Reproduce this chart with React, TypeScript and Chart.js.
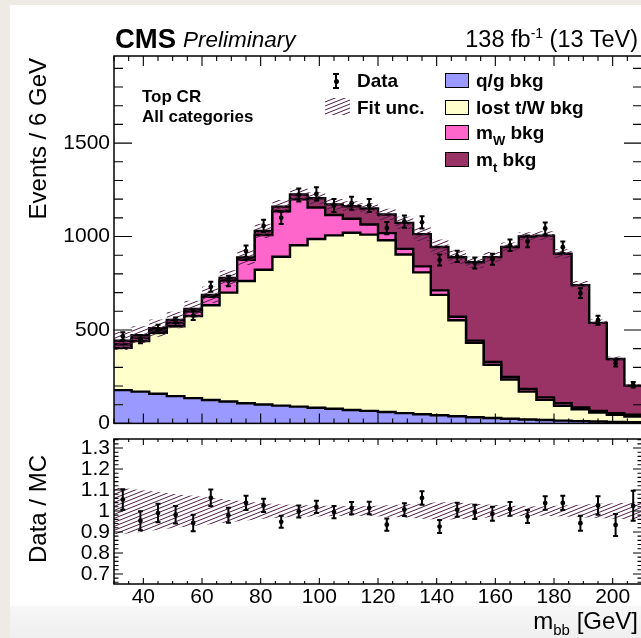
import React, { useEffect, useRef } from "react";
import { Chart, registerables } from "chart.js";

Chart.register(...registerables);

const FONT = "'Liberation Sans', Arial, Helvetica, sans-serif";

// m_bb binning: 30 bins of 6 GeV between 30 and 210 GeV
const binEdges = [30, 36, 42, 48, 54, 60, 66, 72, 78, 84, 90, 96, 102, 108, 114, 120, 126, 132, 138, 144, 150, 156, 162, 168, 174, 180, 186, 192, 198, 204, 210];

// Post-fit background yields per bin
const qgBkg = [178, 170, 159, 146, 135, 125, 117, 108, 101, 95, 90, 84, 78, 72, 67, 61, 55, 49, 44, 38, 33, 29, 25, 21, 18, 15, 12, 10, 8, 6];
const lostBkg = [227, 270, 326, 374, 440, 507, 583, 654, 721, 797, 863, 903, 928, 948, 943, 919, 849, 759, 644, 514, 398, 285, 210, 149, 108, 79, 64, 48, 38, 31];
const mwBkg = [17, 15, 12, 16, 23, 46, 65, 114, 186, 243, 246, 168, 109, 75, 54, 38, 30, 32, 24, 19, 12, 15, 14, 14, 13, 14, 10, 9, 9, 9];
const mtBkg = [20, 17, 13, 17, 14, 10, 13, 12, 22, 25, 26, 50, 57, 67, 86, 100, 139, 173, 232, 318, 419, 561, 695, 816, 866, 800, 654, 471, 290, 156];

// Observed events per bin
const dataCounts = [466, 450, 505, 543, 577, 731, 762, 922, 1057, 1100, 1222, 1228, 1166, 1178, 1166, 1045, 1080, 1076, 874, 894, 858, 878, 953, 974, 1043, 943, 697, 552, 322, 207];

// Relative fit uncertainty on the total prediction
const fitUnc = [0.11, 0.1, 0.09, 0.08, 0.072, 0.063, 0.054, 0.045, 0.037, 0.031, 0.028, 0.026, 0.024, 0.023, 0.024, 0.027, 0.031, 0.037, 0.042, 0.04, 0.035, 0.03, 0.026, 0.023, 0.023, 0.026, 0.03, 0.034, 0.037, 0.04];

const mainYTicks = [0, 500, 1000, 1500];
const ratioYTicks = [0.7, 0.8, 0.9, 1.0, 1.1, 1.2, 1.3];
const xTicks = [40, 60, 80, 100, 120, 140, 160, 180, 200];

const COLORS = {
  qg: "#9999ff",
  lost: "#ffffcc",
  mw: "#ff66cc",
  mt: "#993366",
  hatch: "rgb(78, 30, 72)",
};

const nBins = binEdges.length - 1;
const centers = binEdges.slice(0, nBins).map((e, i) => (e + binEdges[i + 1]) / 2);

function cumulate(...parts: number[][]) {
  return parts[0].map((_, i) => parts.reduce((s, p) => s + p[i], 0));
}
const cumQg = cumulate(qgBkg);
const cumLost = cumulate(qgBkg, lostBkg);
const cumMw = cumulate(qgBkg, lostBkg, mwBkg);
const totalMC = cumulate(qgBkg, lostBkg, mwBkg, mtBkg);

function stepPoints(vals: number[]) {
  const pts = vals.map((v, i) => ({ x: binEdges[i], y: v }));
  pts.push({ x: binEdges[nBins], y: vals[nBins - 1] });
  return pts;
}

function errorBarPoints(xs: number[], lo: number[], hi: number[], cap: number) {
  const pts: { x: number; y: number | null }[] = [];
  xs.forEach((x, i) => {
    pts.push({ x, y: lo[i] }, { x, y: hi[i] }, { x, y: null });
    pts.push({ x: x - cap, y: lo[i] }, { x: x + cap, y: lo[i] }, { x, y: null });
    pts.push({ x: x - cap, y: hi[i] }, { x: x + cap, y: hi[i] }, { x, y: null });
  });
  return pts;
}

function range(from: number, to: number, step: number) {
  const out: number[] = [];
  for (let v = from; v <= to + step * 1e-6; v += step) out.push(Math.round(v * 1000) / 1000);
  return out;
}

function makeHatchTile() {
  const c = document.createElement("canvas");
  c.width = 10;
  c.height = 4;
  const g = c.getContext("2d")!;
  g.strokeStyle = COLORS.hatch;
  g.lineWidth = 1;
  for (const k of [-1, 0, 1]) {
    g.beginPath();
    g.moveTo(-10, 8 + k * 4);
    g.lineTo(20, -4 + k * 4);
    g.stroke();
  }
  return c;
}

type TickSpec = { v: number; len: number }[];

function frameTicksPlugin(id: string, xs: TickSpec, ys: TickSpec) {
  return {
    id,
    afterDatasetsDraw(chart: any) {
      const { ctx, chartArea: a, scales } = chart;
      const sx = scales.x;
      const sy = scales.y;
      ctx.save();
      ctx.strokeStyle = "#000";
      ctx.lineWidth = 1.1;
      ctx.beginPath();
      xs.forEach(({ v, len }) => {
        const p = sx.getPixelForValue(v);
        ctx.moveTo(p, a.bottom);
        ctx.lineTo(p, a.bottom - len);
        ctx.moveTo(p, a.top);
        ctx.lineTo(p, a.top + len);
      });
      ys.forEach(({ v, len }) => {
        const p = sy.getPixelForValue(v);
        ctx.moveTo(a.left, p);
        ctx.lineTo(a.left + len, p);
        ctx.moveTo(a.right, p);
        ctx.lineTo(a.right - len, p);
      });
      ctx.stroke();
      ctx.lineWidth = 1.5;
      ctx.strokeRect(a.left, a.top, a.right - a.left, a.bottom - a.top);
      ctx.restore();
    },
  };
}

function tickSpec(major: number[], minor: number[], majorLen: number, minorLen: number): TickSpec {
  const isMajor = (v: number) => major.some((m) => Math.abs(m - v) < 1e-6);
  return [
    ...major.map((v) => ({ v, len: majorLen })),
    ...minor.filter((v) => !isMajor(v)).map((v) => ({ v, len: minorLen })),
  ];
}

const CANVAS_W = 700;
const MAIN_H = 440;
const RATIO_TOP = 420;
const RATIO_H = 218;
const PLOT_LEFT = 114;
const PLOT_RIGHT = 642;

function histDataset(label: string, vals: number[], color: string, order: number) {
  return {
    label,
    data: stepPoints(vals),
    stepped: true,
    borderColor: "#000",
    borderWidth: 2.4,
    borderJoinStyle: "miter",
    backgroundColor: color,
    fill: "origin",
    pointRadius: 0,
    order,
  };
}

function mainConfig(hatch: CanvasPattern) {
  const dataErr = errorBarPoints(
    centers,
    dataCounts.map((d) => d - Math.sqrt(d)),
    dataCounts.map((d) => d + Math.sqrt(d)),
    0.85
  );
  return {
    type: "line",
    data: {
      datasets: [
        {
          label: "Data",
          data: centers.map((x, i) => ({ x, y: dataCounts[i] })),
          showLine: false,
          pointRadius: 2.4,
          pointBackgroundColor: "#000",
          pointBorderWidth: 0,
          order: 0,
        },
        {
          label: "Data errors",
          data: dataErr,
          borderColor: "#000",
          borderWidth: 2,
          pointRadius: 0,
          spanGaps: false,
          fill: false,
          order: 0,
        },
        {
          label: "Fit unc. low",
          data: stepPoints(totalMC.map((t, i) => t * (1 - fitUnc[i]))),
          stepped: true,
          borderColor: "rgba(0,0,0,0)",
          borderWidth: 0,
          pointRadius: 0,
          fill: false,
          order: 1,
        },
        {
          label: "Fit unc.",
          data: stepPoints(totalMC.map((t, i) => t * (1 + fitUnc[i]))),
          stepped: true,
          borderColor: "rgba(0,0,0,0)",
          borderWidth: 0,
          pointRadius: 0,
          backgroundColor: hatch,
          fill: 2,
          order: 1,
        },
        histDataset("q/g bkg", cumQg, COLORS.qg, 2),
        histDataset("lost t/W bkg", cumLost, COLORS.lost, 3),
        histDataset("mW bkg", cumMw, COLORS.mw, 4),
        histDataset("mt bkg", totalMC, COLORS.mt, 5),
      ],
    },
    options: {
      responsive: false,
      animation: false,
      events: [],
      layout: { padding: { left: 0, top: 56, right: CANVAS_W - PLOT_RIGHT, bottom: MAIN_H - 427 } },
      plugins: { legend: { display: false }, tooltip: { enabled: false } },
      scales: {
        x: {
          type: "linear",
          min: 30,
          max: 210,
          ticks: { display: false },
          grid: { display: false, drawTicks: false },
          border: { display: false },
          afterFit: (s: any) => {
            s.height = 0;
          },
        },
        y: {
          type: "linear",
          min: 0,
          max: 1966,
          afterBuildTicks: (s: any) => {
            s.ticks = mainYTicks.map((value) => ({ value }));
          },
          ticks: {
            font: { family: FONT, size: 21 },
            color: "#000",
            padding: 4,
            autoSkip: false,
            callback: (v: number) => String(v),
          },
          grid: { display: false, drawTicks: false },
          border: { display: false },
          afterFit: (s: any) => {
            s.width = PLOT_LEFT;
          },
        },
      },
    },
    plugins: [
      frameTicksPlugin(
        "mainFrame",
        tickSpec(xTicks, range(30, 210, 5), 10, 5),
        tickSpec(mainYTicks, range(0, 1900, 100), 18, 9)
      ),
    ],
  };
}

function ratioConfig(hatch: CanvasPattern) {
  const ratio = dataCounts.map((d, i) => d / totalMC[i]);
  const ratioErr = dataCounts.map((d, i) => Math.sqrt(d) / totalMC[i]);
  const bandX = [binEdges[0], ...centers, binEdges[nBins]];
  const bandU = [fitUnc[0], ...fitUnc, fitUnc[nBins - 1]];
  return {
    type: "line",
    data: {
      datasets: [
        {
          label: "Data / MC",
          data: centers.map((x, i) => ({ x, y: ratio[i] })),
          showLine: false,
          pointRadius: 2.4,
          pointBackgroundColor: "#000",
          pointBorderWidth: 0,
          order: 0,
        },
        {
          label: "Data / MC errors",
          data: errorBarPoints(
            centers,
            ratio.map((r, i) => r - ratioErr[i]),
            ratio.map((r, i) => r + ratioErr[i]),
            0.85
          ),
          borderColor: "#000",
          borderWidth: 2,
          pointRadius: 0,
          spanGaps: false,
          fill: false,
          order: 0,
        },
        {
          label: "Fit unc. low",
          data: bandX.map((x, i) => ({ x, y: 1 - bandU[i] })),
          borderColor: "rgba(0,0,0,0)",
          borderWidth: 0,
          pointRadius: 0,
          fill: false,
          order: 1,
        },
        {
          label: "Fit unc.",
          data: bandX.map((x, i) => ({ x, y: 1 + bandU[i] })),
          borderColor: "rgba(0,0,0,0)",
          borderWidth: 0,
          pointRadius: 0,
          backgroundColor: hatch,
          fill: 2,
          order: 1,
        },
      ],
    },
    options: {
      responsive: false,
      animation: false,
      events: [],
      layout: { padding: { left: 0, top: 439 - RATIO_TOP, right: CANVAS_W - PLOT_RIGHT, bottom: 0 } },
      plugins: { legend: { display: false }, tooltip: { enabled: false } },
      scales: {
        x: {
          type: "linear",
          min: 30,
          max: 210,
          afterBuildTicks: (s: any) => {
            s.ticks = xTicks.map((value) => ({ value }));
          },
          ticks: {
            font: { family: FONT, size: 21 },
            color: "#000",
            padding: 1,
            maxRotation: 0,
            autoSkip: false,
            callback: (v: number) => String(v),
          },
          grid: { display: false, drawTicks: false },
          border: { display: false },
          afterFit: (s: any) => {
            s.height = RATIO_TOP + RATIO_H - 584;
          },
        },
        y: {
          type: "linear",
          min: 0.652,
          max: 1.343,
          afterBuildTicks: (s: any) => {
            s.ticks = ratioYTicks.map((value) => ({ value }));
          },
          ticks: {
            font: { family: FONT, size: 21 },
            color: "#000",
            padding: 4,
            autoSkip: false,
            callback: (v: number) => String(Math.round(v * 10) / 10),
          },
          grid: { display: false, drawTicks: false },
          border: { display: false },
          afterFit: (s: any) => {
            s.width = PLOT_LEFT;
          },
        },
      },
    },
    plugins: [
      frameTicksPlugin(
        "ratioFrame",
        tickSpec(xTicks, range(30, 210, 5), 6, 3),
        tickSpec(ratioYTicks, range(0.66, 1.34, 0.02), 9, 4.5)
      ),
    ],
  };
}

type TextProps = {
  x: number;
  base: number;
  size: number;
  bold?: boolean;
  italic?: boolean;
  anchor?: "start" | "end";
  children: React.ReactNode;
};

function Text({ x, base, size, bold, italic, anchor = "start", children }: TextProps) {
  const style: React.CSSProperties = {
    position: "absolute",
    top: base - 0.8465 * size,
    fontFamily: FONT,
    fontSize: size,
    lineHeight: 1,
    fontWeight: bold ? "bold" : "normal",
    fontStyle: italic ? "italic" : "normal",
    whiteSpace: "nowrap",
    color: "#000",
  };
  if (anchor === "end") style.right = 641 - x;
  else style.left = x;
  return <div style={style}>{children}</div>;
}

function VText({ baseX, top, size, children }: { baseX: number; top: number; size: number; children: React.ReactNode }) {
  return (
    <div
      style={{
        position: "absolute",
        left: baseX - 0.8465 * size,
        top,
        width: size,
        fontFamily: FONT,
        fontSize: size,
        lineHeight: 1,
        writingMode: "vertical-rl",
        transform: "rotate(180deg)",
        whiteSpace: "nowrap",
        color: "#000",
      }}
    >
      {children}
    </div>
  );
}

const sub = (s: string, size: number) => (
  <span style={{ fontSize: size, position: "relative", top: size * 0.45 }}>{s}</span>
);

function LegendBox({ top, color }: { top: number; color: string }) {
  return (
    <div
      style={{
        position: "absolute",
        left: 445,
        top,
        width: 24,
        height: 15,
        boxSizing: "border-box",
        border: "1.5px solid #000",
        background: color,
      }}
    />
  );
}

export default function App() {
  const mainRef = useRef<HTMLCanvasElement>(null);
  const ratioRef = useRef<HTMLCanvasElement>(null);
  const swatchRef = useRef<HTMLDivElement>(null);

  useEffect(() => {
    const tile = makeHatchTile();
    const pattern = tile.getContext("2d")!.createPattern(tile, "repeat")!;
    if (swatchRef.current) swatchRef.current.style.backgroundImage = `url(${tile.toDataURL()})`;
    const main = new Chart(mainRef.current!, mainConfig(pattern) as any);
    const ratio = new Chart(ratioRef.current!, ratioConfig(pattern) as any);
    return () => {
      main.destroy();
      ratio.destroy();
    };
  }, []);

  return (
    <div
      style={{
        position: "fixed",
        left: 0,
        top: 0,
        width: 641,
        height: 638,
        overflow: "hidden",
        background: "#eeebe4",
      }}
    >
      <div style={{ position: "absolute", left: 10, top: 5, right: 0, height: 601, background: "#fff" }} />
      <div
        style={{
          position: "absolute",
          left: 10,
          top: 606,
          right: 0,
          bottom: 0,
          background: "linear-gradient(#f7f7f7, #efefef)",
        }}
      />
      <canvas
        ref={mainRef}
        width={CANVAS_W}
        height={MAIN_H}
        style={{ position: "absolute", left: 0, top: 0, width: CANVAS_W, height: MAIN_H }}
      />
      <canvas
        ref={ratioRef}
        width={CANVAS_W}
        height={RATIO_H}
        style={{ position: "absolute", left: 0, top: RATIO_TOP, width: CANVAS_W, height: RATIO_H }}
      />

      <Text x={115} base={48} size={27.5} bold>
        CMS
      </Text>
      <Text x={183} base={48} size={22.5} italic>
        Preliminary
      </Text>
      <Text x={638} base={48} size={23.5} anchor="end">
        138 fb<span style={{ fontSize: 14, position: "relative", top: -9 }}>-1</span> (13 TeV)
      </Text>

      <VText baseX={46} top={58} size={24}>
        Events / 6 GeV
      </VText>
      <VText baseX={46} top={455} size={24}>
        Data / MC
      </VText>
      <Text x={638} base={629} size={24} anchor="end">
        m{sub("bb", 15)} [GeV]
      </Text>

      <Text x={142} base={102.5} size={17} bold>
        Top CR
      </Text>
      <Text x={142} base={122.5} size={17} bold>
        All categories
      </Text>

      {/* data marker */}
      <div style={{ position: "absolute", left: 335, top: 74, width: 2, height: 14, background: "#000" }} />
      <div style={{ position: "absolute", left: 333, top: 73, width: 6, height: 2, background: "#000" }} />
      <div style={{ position: "absolute", left: 333, top: 87, width: 6, height: 2, background: "#000" }} />
      <div style={{ position: "absolute", left: 333.5, top: 78.5, width: 5, height: 5, borderRadius: 3, background: "#000" }} />
      <Text x={357} base={87.5} size={19} bold>
        Data
      </Text>

      <div ref={swatchRef} style={{ position: "absolute", left: 325, top: 98, width: 25, height: 17 }} />
      <Text x={357} base={114.5} size={19} bold>
        Fit unc.
      </Text>

      <LegendBox top={73} color={COLORS.qg} />
      <Text x={476} base={87.5} size={19} bold>
        q/g bkg
      </Text>
      <LegendBox top={100} color={COLORS.lost} />
      <Text x={476} base={114.5} size={19} bold>
        lost t/W bkg
      </Text>
      <LegendBox top={125} color={COLORS.mw} />
      <Text x={476} base={139.5} size={19} bold>
        m{sub("W", 13)} bkg
      </Text>
      <LegendBox top={151.5} color={COLORS.mt} />
      <Text x={476} base={166} size={19} bold>
        m{sub("t", 13)} bkg
      </Text>
    </div>
  );
}
